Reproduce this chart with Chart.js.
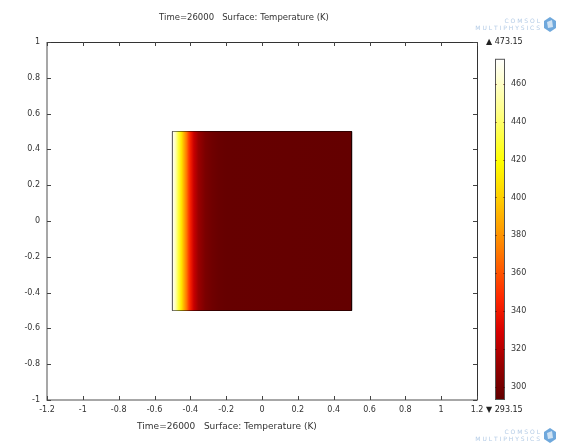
<!DOCTYPE html>
<html lang="en">

<head>
    <meta charset="UTF-8">
    <title>Time=26000 Surface: Temperature (K)</title>
    <script src="https://cdn.jsdelivr.net/npm/chart.js"></script>
    <style>
        body,
        html {
            margin: 0;
            background: #fff;
        }
    </style>
</head>

<body>
    <canvas id="tempChart" width="561" height="443"></canvas>
    <script>
        // geometry of the heated square and the plot window
        const domainX = [-0.5, 0.5];
        const domainY = [-0.5, 0.5];
        const xRange = [-1.2, 1.2];
        const yRange = [-1, 1];

        // temperature along x, K
        const profileX = [-0.5, -0.483, -0.466, -0.45, -0.44, -0.42, -0.41, -0.40, -0.38, -0.355, -0.316, -0.277, -0.243, -0.2, 0.5];
        const profileT = [473.15, 455, 430, 410, 395, 370, 355, 343, 325, 312, 302, 298, 296, 295, 294.5];

        // colour range
        const tempRange = [293.15, 473.15];
        const colorTicks = [300, 320, 340, 360, 380, 400, 420, 440, 460];

        const titleText = 'Time=26000   Surface: Temperature (K)';
        const font = '"DejaVu Sans", sans-serif';

        // thermal-ish colour table [fraction, r, g, b]
        const cmapStops = [
            [0.0, 96, 0, 0],
            [0.1, 150, 0, 0],
            [0.2, 215, 0, 0],
            [0.3, 255, 40, 0],
            [0.45, 255, 130, 0],
            [0.6, 255, 210, 0],
            [0.7, 255, 255, 0],
            [0.85, 255, 255, 140],
            [1.0, 255, 255, 255]
        ];

        function cmap(t) {
            const f = Math.min(1, Math.max(0, (t - tempRange[0]) / (tempRange[1] - tempRange[0])));
            for (let i = 1; i < cmapStops.length; i++) {
                const a = cmapStops[i - 1], b = cmapStops[i];
                if (f <= b[0]) {
                    const k = (f - a[0]) / (b[0] - a[0]);
                    const c = [1, 2, 3].map(j => Math.round(a[j] + (b[j] - a[j]) * k));
                    return `rgb(${c[0]},${c[1]},${c[2]})`;
                }
            }
            return 'rgb(255,255,255)';
        }

        function surfaceFill(context) {
            const chart = context.chart;
            if (!chart.chartArea) return null;
            const xs = chart.scales.x;
            const x0 = xs.getPixelForValue(domainX[0]);
            const x1 = xs.getPixelForValue(domainX[1]);
            const g = chart.ctx.createLinearGradient(x0, 0, x1, 0);
            for (let i = 0; i < profileX.length; i++) {
                const pos = (profileX[i] - domainX[0]) / (domainX[1] - domainX[0]);
                g.addColorStop(Math.min(1, Math.max(0, pos)), cmap(profileT[i]));
            }
            return g;
        }

        function drawLogo(ctx, right, top) {
            ctx.save();
            ctx.fillStyle = '#b3cbe6';
            ctx.font = '6px ' + font;
            ctx.textAlign = 'right';
            ctx.textBaseline = 'top';
            ctx.fillText('C O M S O L', right - 17, top + 2);
            ctx.fillText('M U L T I P H Y S I C S', right - 17, top + 9);
            // little cube
            const cx = right - 7, cy = top + 8;
            ctx.fillStyle = '#6fa8dc';
            ctx.beginPath();
            ctx.moveTo(cx, cy - 7);
            ctx.lineTo(cx + 6, cy - 3);
            ctx.lineTo(cx + 6, cy + 4);
            ctx.lineTo(cx, cy + 8);
            ctx.lineTo(cx - 6, cy + 4);
            ctx.lineTo(cx - 6, cy - 3);
            ctx.closePath();
            ctx.fill();
            ctx.fillStyle = '#cfe2f3';
            ctx.beginPath();
            ctx.moveTo(cx - 3, cy - 2);
            ctx.lineTo(cx + 2, cy - 4);
            ctx.lineTo(cx + 3, cy + 3);
            ctx.lineTo(cx - 2, cy + 4);
            ctx.closePath();
            ctx.fill();
            ctx.restore();
        }

        const framePlugin = {
            id: 'frame',
            afterDraw(chart) {
                const { ctx, chartArea: a, scales } = chart;
                const tick = 4;
                ctx.save();
                // top/right frame
                ctx.strokeStyle = '#333';
                ctx.lineWidth = 1;
                ctx.beginPath();
                ctx.moveTo(a.left, a.top + 0.5);
                ctx.lineTo(a.right + 0.5, a.top + 0.5);
                ctx.lineTo(a.right + 0.5, a.bottom);
                ctx.stroke();
                // left/bottom axes
                ctx.strokeStyle = '#8a8a8a';
                ctx.lineWidth = 1.5;
                ctx.beginPath();
                ctx.moveTo(a.left, a.top);
                ctx.lineTo(a.left, a.bottom);
                ctx.lineTo(a.right + 1, a.bottom);
                ctx.stroke();
                // inward tick marks on all four sides
                ctx.strokeStyle = '#444';
                ctx.lineWidth = 1;
                ctx.beginPath();
                scales.x.ticks.forEach(t => {
                    const px = Math.round(scales.x.getPixelForValue(t.value)) + 0.5;
                    ctx.moveTo(px, a.bottom);
                    ctx.lineTo(px, a.bottom - tick);
                    ctx.moveTo(px, a.top);
                    ctx.lineTo(px, a.top + tick);
                });
                scales.y.ticks.forEach(t => {
                    const py = Math.round(scales.y.getPixelForValue(t.value)) + 0.5;
                    ctx.moveTo(a.left, py);
                    ctx.lineTo(a.left + tick, py);
                    ctx.moveTo(a.right, py);
                    ctx.lineTo(a.right - tick, py);
                });
                ctx.stroke();

                // colour bar
                const cb = scales.y2;
                const bx = a.right + 18, bw = 10;
                const yTop = cb.getPixelForValue(tempRange[1]);
                const yBot = cb.getPixelForValue(tempRange[0]);
                const g = ctx.createLinearGradient(0, yBot, 0, yTop);
                for (let i = 0; i <= 40; i++) {
                    g.addColorStop(i / 40, cmap(tempRange[0] + (tempRange[1] - tempRange[0]) * i / 40));
                }
                ctx.fillStyle = g;
                ctx.fillRect(bx, yTop, bw, yBot - yTop);
                ctx.strokeStyle = '#555';
                ctx.strokeRect(bx + 0.5, yTop + 0.5, bw - 1, yBot - yTop - 1);
                ctx.strokeStyle = 'rgba(60,0,0,0.45)';
                ctx.beginPath();
                colorTicks.forEach(v => {
                    const py = Math.round(cb.getPixelForValue(v)) + 0.5;
                    ctx.moveTo(bx, py);
                    ctx.lineTo(bx + 2, py);
                    ctx.moveTo(bx + bw, py);
                    ctx.lineTo(bx + bw - 2, py);
                });
                ctx.stroke();

                // max / min markers
                ctx.fillStyle = '#222';
                ctx.font = '8px ' + font;
                ctx.textAlign = 'left';
                ctx.textBaseline = 'middle';
                ctx.fillText('\u25B2 ' + tempRange[1].toFixed(2), a.right + 9, a.top);
                ctx.fillText('\u25BC ' + tempRange[0].toFixed(2), a.right + 9, a.bottom + 10);

                // titles
                ctx.fillStyle = '#333';
                ctx.textAlign = 'center';
                ctx.font = '8.5px ' + font;
                ctx.fillText(titleText, 244, 18);
                ctx.font = '9px ' + font;
                ctx.fillText(titleText, 227, 427);

                drawLogo(ctx, 557, 16);
                drawLogo(ctx, 557, 427);
                ctx.restore();
            }
        };

        const outline = [
            { x: domainX[0], y: domainY[0] },
            { x: domainX[0], y: domainY[1] },
            { x: domainX[1], y: domainY[1] },
            { x: domainX[1], y: domainY[0] },
            { x: domainX[0], y: domainY[0] }
        ];

        const tickFont = { family: font, size: 8 };
        const fmt = v => String(Math.round(v * 10) / 10);

        new Chart(document.getElementById('tempChart').getContext('2d'), {
            type: 'line',
            data: {
                datasets: [{
                    data: domainX.map(x => ({ x: x, y: domainY[1] })),
                    fill: { value: domainY[0] },
                    backgroundColor: surfaceFill,
                    borderWidth: 0,
                    pointRadius: 0
                }, {
                    data: outline,
                    fill: false,
                    borderColor: '#000',
                    borderWidth: 1,
                    pointRadius: 0
                }]
            },
            options: {
                responsive: false,
                animation: false,
                layout: { padding: { top: 42, left: 0, right: 0, bottom: 0 } },
                plugins: {
                    legend: { display: false },
                    tooltip: { enabled: false },
                    title: { display: false }
                },
                scales: {
                    x: {
                        type: 'linear',
                        min: xRange[0],
                        max: xRange[1],
                        grid: { display: false, drawTicks: false },
                        border: { display: false },
                        ticks: { stepSize: 0.2, autoSkip: false, maxRotation: 0, padding: 5, color: '#333', font: tickFont, callback: fmt },
                        afterFit: s => { s.height = 43; }
                    },
                    y: {
                        type: 'linear',
                        min: yRange[0],
                        max: yRange[1],
                        grid: { display: false, drawTicks: false },
                        border: { display: false },
                        ticks: { stepSize: 0.2, autoSkip: false, padding: 7, color: '#333', font: tickFont, callback: fmt },
                        afterFit: s => { s.width = 47; }
                    },
                    y2: {
                        type: 'linear',
                        position: 'right',
                        min: 293.15,
                        max: 482,
                        grid: { display: false, drawTicks: false },
                        border: { display: false },
                        ticks: { autoSkip: false, padding: 34, color: '#333', font: tickFont },
                        afterBuildTicks: s => { s.ticks = colorTicks.map(v => ({ value: v })); },
                        afterFit: s => { s.width = 84; }
                    }
                }
            },
            plugins: [framePlugin]
        });
    </script>
</body>

</html>
